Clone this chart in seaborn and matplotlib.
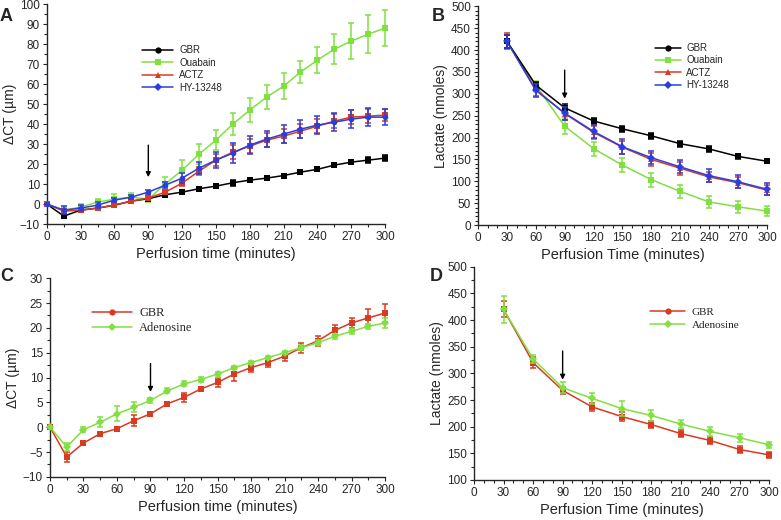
import numpy as np
import pandas as pd
import matplotlib
matplotlib.use("Agg")
import matplotlib.pyplot as plt
from matplotlib.lines import Line2D
from matplotlib.ticker import MultipleLocator
import seaborn as sns

# -----------------------------
# Data
# -----------------------------
t_ct = [0, 15, 30, 45, 60, 75, 90, 105, 120, 135, 150, 165, 180, 195, 210, 225, 240, 255, 270, 285, 300]
t_lac = [30, 60, 90, 120, 150, 180, 210, 240, 270, 300]

# Panel A (delta CT, um)
a_gbr = [0, -6, -3, -2, -0.5, 1.5, 2.7, 4.7, 6, 7.7, 9, 10.7, 12, 13, 14.3, 16, 17.4, 19.5, 21, 22, 23]
a_gbr_err = [0, 1, 0.7, 0.5, 0.5, 0.6, 0.5, 0.5, 0.8, 0.5, 0.8, 1.5, 1, 1, 1, 1, 1, 1, 1, 1.5, 1.5]
a_oua = [0, -3, -1.5, 1, 2.5, 3.5, 2.5, 10, 17, 25, 32, 40, 47, 53.5, 59, 66, 72, 77.5, 81.5, 85, 88]
a_oua_err = [0, 1.5, 1.5, 1.5, 2.5, 2, 1.5, 3.5, 5, 5, 5, 5.5, 6, 6, 6.5, 5.5, 6.5, 7.5, 9, 9.5, 9]
a_actz = [0, -3.5, -3, -2, -0.5, 1.5, 3, 6, 10.5, 16.5, 22, 26, 29, 32, 34, 36.5, 39, 41.5, 43.5, 44, 44.5]
a_actz_err = [0, 1, 1, 1, 0.8, 1, 1, 1, 1.5, 2, 3, 3.5, 3.5, 3.5, 3.5, 3.5, 3.5, 3.5, 3.5, 3.5, 3]
a_hy = [0, -3, -2, -0.5, 2, 3.5, 6, 9.5, 13, 18, 22, 25.5, 29.5, 32.5, 35, 37.5, 39.5, 41, 42.5, 43.5, 43.5]
a_hy_err = [0, 2, 1.5, 1.5, 1, 1, 1, 1.5, 2.5, 3, 4, 5, 4.5, 4, 4.5, 4.5, 4.5, 4.5, 4.5, 4.5, 4]

# Panel B (lactate, nmoles)
b_gbr = [420, 320, 268, 238, 220, 204, 186, 174, 157, 146]
b_gbr_err = [15, 8, 8, 7, 7, 7, 7, 6, 5, 4]
b_oua = [420, 320, 226, 175, 137, 104, 77, 53, 42, 32]
b_oua_err = [15, 10, 18, 16, 16, 16, 15, 14, 14, 12]
b_actz = [420, 310, 255, 212, 178, 150, 130, 110, 97, 80]
b_actz_err = [18, 15, 15, 15, 15, 15, 15, 12, 12, 12]
b_hy = [420, 308, 256, 214, 179, 154, 133, 113, 99, 82]
b_hy_err = [15, 15, 15, 15, 17, 15, 15, 15, 15, 14]

# Panel C (delta CT, um)
c_gbr = [0, -6, -3.2, -1.3, -0.3, 1.3, 2.7, 4.7, 6, 7.7, 9, 10.7, 12, 13, 14.3, 16, 17.4, 19.5, 21, 22, 23]
c_gbr_err = [0, 1, 0.4, 0.4, 0.4, 1.1, 0.4, 0.4, 0.9, 0.4, 0.9, 1.4, 0.9, 0.9, 0.9, 1, 1, 1, 1, 1.7, 1.8]
c_ade = [0, -4, -0.5, 1.0, 2.7, 4.0, 5.4, 7.3, 8.7, 9.6, 10.7, 12, 13, 14, 15, 16, 17, 18.3, 19.3, 20.3, 21]
c_ade_err = [0, 0.8, 0.5, 1, 1.5, 1, 0.5, 0.5, 0.5, 0.5, 0.5, 0.3, 0.3, 0.3, 0.3, 0.5, 0.5, 0.5, 0.5, 0.5, 1]

# Panel D (lactate, nmoles)
d_gbr = [420, 320, 268, 237, 219, 204, 187, 174, 157, 147]
d_gbr_err = [15, 10, 7, 8, 8, 7, 7, 6, 6, 5]
d_ade = [420, 327, 273, 253, 234, 221, 205, 191, 179, 166]
d_ade_err = [25, 8, 10, 10, 14, 11, 8, 9, 8, 6]

BLACK = "#000000"
GREEN = "#80e040"
RED = "#d83a22"
BLUE = "#2a3ee0"

sns.set_style("ticks")
plt.rcParams["font.family"] = ["Liberation Sans", "DejaVu Sans"]

fig = plt.figure(figsize=(7.81, 5.2), dpi=100)
axA = fig.add_axes([0.060, 0.569, 0.433, 0.423])
axB = fig.add_axes([0.612, 0.567, 0.370, 0.421])
axC = fig.add_axes([0.064, 0.083, 0.429, 0.382])
axD = fig.add_axes([0.607, 0.077, 0.378, 0.410])


def draw(ax, t, y, err, color, marker, ms=4):
    df = pd.DataFrame({"t": t, "y": y})
    sns.lineplot(data=df, x="t", y="y", ax=ax, color=color, lw=1.1,
                 marker=marker, markersize=ms, markeredgewidth=0,
                 markeredgecolor=color, clip_on=False, zorder=3)
    ax.errorbar(t, y, yerr=err, fmt="none", ecolor=color, elinewidth=1.1,
                capsize=2.5, capthick=1.1, clip_on=False, zorder=3)


def style(ax, xlabel, ylabel, ylim, ymaj, ymin):
    sns.despine(ax=ax)
    ax.set_xlim(0, 300)
    ax.set_ylim(*ylim)
    ax.xaxis.set_major_locator(MultipleLocator(30))
    ax.xaxis.set_minor_locator(MultipleLocator(15))
    ax.yaxis.set_major_locator(MultipleLocator(ymaj))
    ax.yaxis.set_minor_locator(MultipleLocator(ymin))
    ax.tick_params(which="major", length=3, width=0.8, labelsize=8.5, pad=2)
    ax.tick_params(which="minor", length=2, width=0.8)
    ax.set_xlabel(xlabel, fontsize=10.5, labelpad=3)
    ax.set_ylabel(ylabel, fontsize=10, labelpad=2)
    for s in ax.spines.values():
        s.set_linewidth(1.0)


def arrow(ax, x, y0, y1):
    ax.annotate("", xy=(x, y1), xytext=(x, y0),
                arrowprops=dict(arrowstyle="-|>", color="black", lw=1.0,
                                mutation_scale=7, shrinkA=0, shrinkB=0))


def legend(ax, items, anchor, serif=False, fs=7, hl=3.2):
    handles = [Line2D([0], [0], color=c, marker=m, markersize=4.5, lw=1.1,
                      markeredgewidth=0) for c, m in items.values()]
    prop = {"size": fs}
    if serif:
        prop["family"] = ["Liberation Serif", "DejaVu Serif"]
    ax.legend(handles, list(items.keys()), loc="upper left", bbox_to_anchor=anchor,
              frameon=False, prop=prop, handlelength=hl, handletextpad=0.6,
              labelspacing=0.25, borderaxespad=0)


# Panel A
draw(axA, t_ct, a_oua, a_oua_err, GREEN, "s")
draw(axA, t_ct, a_gbr, a_gbr_err, BLACK, "s")
draw(axA, t_ct, a_actz, a_actz_err, RED, "s")
draw(axA, t_ct, a_hy, a_hy_err, BLUE, "o")
style(axA, "Perfusion time (minutes)", "\u0394CT (\u00b5m)", (-10, 100), 10, 5)
arrow(axA, 90, 29.5, 13.5)
legend(axA, {"GBR": (BLACK, "o"), "Ouabain": (GREEN, "s"),
             "ACTZ": (RED, "^"), "HY-13248": (BLUE, "D")}, (0.27, 0.83))

# Panel B
draw(axB, t_lac, b_oua, b_oua_err, GREEN, "s")
draw(axB, t_lac, b_actz, b_actz_err, RED, "^")
draw(axB, t_lac, b_gbr, b_gbr_err, BLACK, "s")
draw(axB, t_lac, b_hy, b_hy_err, BLUE, "D")
style(axB, "Perfusion Time (minutes)", "Lactate (nmoles)", (0, 500), 50, 10)
axB.xaxis.set_minor_locator(MultipleLocator(10))
arrow(axB, 90, 354, 289)
legend(axB, {"GBR": (BLACK, "o"), "Ouabain": (GREEN, "s"),
             "ACTZ": (RED, "^"), "HY-13248": (BLUE, "D")}, (0.60, 0.85), hl=2.6)

# Panel C
draw(axC, t_ct, c_gbr, c_gbr_err, RED, "s", ms=5)
draw(axC, t_ct, c_ade, c_ade_err, GREEN, "D", ms=4)
style(axC, "Perfusion time (minutes)", "\u0394CT (\u00b5m)", (-10, 30), 5, 2.5)
arrow(axC, 90, 12.8, 7.1)
legend(axC, {"GBR": (RED, "o"), "Adenosine": (GREEN, "D")}, (0.11, 0.88),
       serif=True, fs=9)

# Panel D
draw(axD, t_lac, d_gbr, d_gbr_err, RED, "s", ms=5)
draw(axD, t_lac, d_ade, d_ade_err, GREEN, "D", ms=4)
style(axD, "Perfusion Time (minutes)", "Lactate (nmoles)", (100, 500), 50, 25)
axD.xaxis.set_minor_locator(MultipleLocator(10))
arrow(axD, 90, 342, 288)
legend(axD, {"GBR": (RED, "o"), "Adenosine": (GREEN, "D")}, (0.58, 0.83),
       serif=True, fs=8)

# Panel letters
for x, y, s in [(0.0, 0.985, "A"), (0.553, 0.985, "B"), (0.0, 0.485, "C"), (0.55, 0.485, "D")]:
    fig.text(x, y, s, fontsize=13, fontweight="bold", va="top", ha="left")

fig.savefig("out.png", dpi=100)
